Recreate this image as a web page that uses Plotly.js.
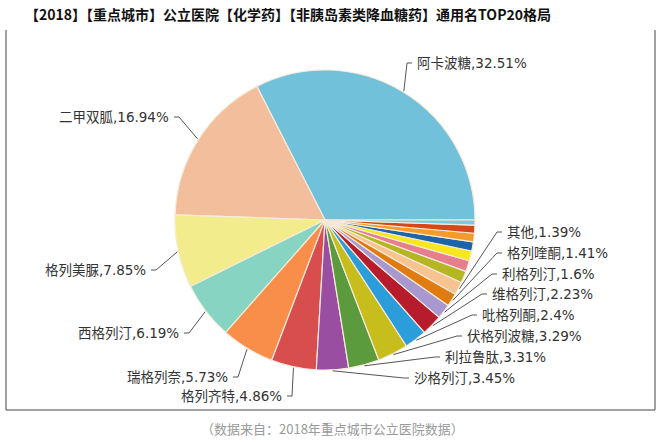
<!DOCTYPE html>
<html><head><meta charset="utf-8">
<script src="https://cdn.plot.ly/plotly-3.0.1.min.js"></script>
<style>html,body{margin:0;padding:0;background:#fff}#chart{width:663px;height:443px}</style>
</head><body><div id="chart"></div>
<script>
// ---- data ----
const drugs = ['阿卡波糖','二甲双胍','格列美脲','西格列汀','瑞格列奈','格列齐特','沙格列汀','利拉鲁肽','伏格列波糖','吡格列酮','维格列汀','利格列汀','格列喹酮','其他','格列吡嗪','那格列奈','米格列醇','罗格列酮','阿格列汀','格列本脲','艾塞那肽'];
const shares = [32.51,16.94,7.85,6.19,5.73,4.86,3.45,3.31,3.29,2.4,2.23,1.6,1.41,1.39,1.28,1.18,1.07,0.98,0.92,0.86,0.55];
const labelled = ['阿卡波糖','二甲双胍','格列美脲','西格列汀','瑞格列奈','格列齐特','沙格列汀','利拉鲁肽','伏格列波糖','吡格列酮','维格列汀','利格列汀','格列喹酮','其他'];
const titleText = '【2018】【重点城市】公立医院【化学药】【非胰岛素类降血糖药】通用名TOP20格局';
const sourceText = '（数据来自：2018年重点城市公立医院数据）';

// ---- style ----
const colors = ['#72C1DA','#F3BE9B','#F3EC8C','#88D4C2','#F98E4A','#D84D4E','#9A4EA2','#5B9B3D','#C7BD1D','#2C9DDB','#B71C2C','#A997D0','#E07B12','#F6C391','#B6B624','#E67E8E','#F7E71C','#1D64A9','#F49B2B','#D6471B','#7DC8E1'];
const W = 663, H = 443;
const CX = 325, CY = 220, R = 150;
const labelPos = {
  '阿卡波糖': {side:'r', x:415, y:63},
  '二甲双胍': {side:'l', x:171, y:117},
  '格列美脲': {side:'l', x:148, y:270},
  '西格列汀': {side:'l', x:181, y:333},
  '瑞格列奈': {side:'l', x:230, y:377},
  '格列齐特': {side:'l', x:284, y:396},
  '沙格列汀': {side:'r', x:412, y:378},
  '利拉鲁肽': {side:'r', x:443, y:357},
  '伏格列波糖': {side:'r', x:465, y:336},
  '吡格列酮': {side:'r', x:480, y:315},
  '维格列汀': {side:'r', x:490, y:294},
  '利格列汀': {side:'r', x:500, y:274},
  '格列喹酮': {side:'r', x:505, y:253},
  '其他': {side:'r', x:505, y:232}
};
const px = x => x / W, py = y => 1 - y / H;
const labelFont = {family:'DejaVu Sans, Noto Sans CJK SC, sans-serif', size:13.5, color:'#333'};

const total = shares.reduce((a,b)=>a+b,0);
const annotations = [], shapes = [];
let cum = 0;
shares.forEach((v,i)=>{
  const name = drugs[i];
  const mid = (cum + v/2) / total * 2 * Math.PI;
  cum += v;
  if (!labelled.includes(name)) return;
  const p = labelPos[name];
  const rx = CX + (R+1) * Math.cos(mid), ry = CY - (R+1) * Math.sin(mid);
  const t1 = p.side === 'r' ? p.x - 3 : p.x + 3;
  const t2 = p.side === 'r' ? p.x - 8 : p.x + 8;
  shapes.push({type:'path', xref:'paper', yref:'paper',
    path:`M${px(t1)},${py(p.y)} L${px(t2)},${py(p.y)} L${px(rx)},${py(ry)}`,
    line:{color:'#555', width:1}});
  annotations.push({xref:'paper', yref:'paper', x:px(p.x), y:py(p.y),
    xanchor: p.side === 'r' ? 'left' : 'right', yanchor:'middle',
    text: name + ',' + v + '%', showarrow:false, font:labelFont});
});

annotations.push({xref:'paper', yref:'paper', x:px(288), y:py(14), xanchor:'center', yanchor:'middle',
  text:'<b>'+titleText+'</b>', showarrow:false,
  font:{family:'Noto Sans CJK SC, sans-serif', size:14, color:'#111'}});
annotations.push({xref:'paper', yref:'paper', x:px(332), y:py(428), xanchor:'center', yanchor:'middle',
  text:sourceText, showarrow:false,
  font:{family:'Noto Sans CJK SC, sans-serif', size:13, color:'#9a9a9a'}});

// frame
[[6,30,6,410],[6,410,655,410],[655,30,655,410]].forEach(l=>{
  shapes.push({type:'line', xref:'paper', yref:'paper', x0:px(l[0]), y0:py(l[1]), x1:px(l[2]), y1:py(l[3]),
    line:{color:'#444', width:1}});
});

// plotly (counterclockwise): the first slice extends clockwise from `rotation`,
// so shift it so that slices run counterclockwise starting at 3 o'clock
const rotation = 90 - 360 * shares[0] / total;
const trace = {
  type:'pie', labels:drugs, values:shares, sort:false, direction:'counterclockwise', rotation:rotation,
  marker:{colors:colors, line:{color:'#F4EBDA', width:1.2}},
  textinfo:'none', hoverinfo:'skip', showlegend:false,
  domain:{x:[px(CX-R), px(CX+R)], y:[py(CY+R), py(CY-R)]}
};
Plotly.newPlot('chart', [trace], {
  width:W, height:H, margin:{l:0,r:0,t:0,b:0},
  paper_bgcolor:'#fff', showlegend:false,
  annotations:annotations, shapes:shapes
}, {displayModeBar:false, staticPlot:true});
</script></body></html>
